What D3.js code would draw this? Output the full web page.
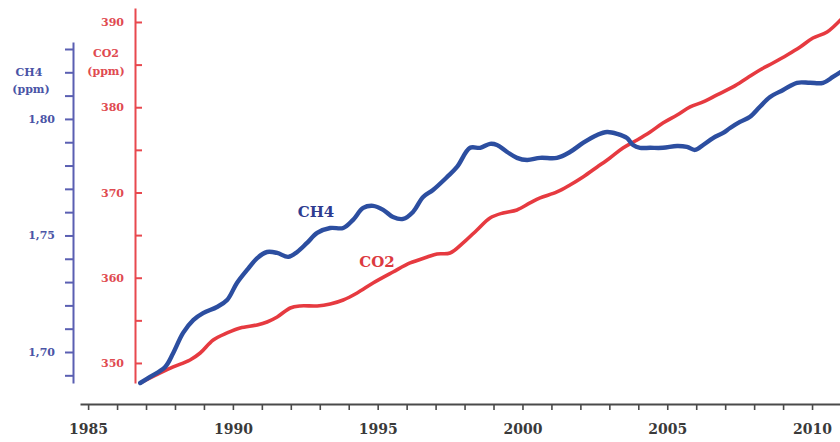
<!DOCTYPE html>
<html>
<head>
<meta charset="utf-8">
<script src="https://cdn.jsdelivr.net/npm/d3@7/dist/d3.min.js"></script>
<style>
  html, body { margin: 0; padding: 0; background: #ffffff; }
  svg { display: block; }
  text { font-family: "DejaVu Serif", "Liberation Serif", serif; font-weight: bold; }
</style>
</head>
<body>
<svg id="chart" width="840" height="442"></svg>
<script>
// Methane concentration (ppm), monthly-smoothed trend
const ch4Years = [1986.80,1987.14,1987.66,1987.94,1988.28,1988.63,1988.97,1989.45,1989.80,1990.14,
  1990.49,1990.84,1991.18,1991.53,1991.91,1992.22,1992.56,1992.91,1993.36,1993.81,
  1994.15,1994.50,1994.84,1995.19,1995.53,1995.88,1996.22,1996.57,1996.91,1997.40,
  1997.74,1998.19,1998.54,1998.88,1999.12,1999.47,1999.81,2000.16,2000.61,2001.19,
  2001.64,2002.09,2002.58,2002.92,2003.27,2003.61,2003.82,2004.06,2004.41,2004.85,
  2005.34,2005.68,2005.96,2006.24,2006.58,2006.93,2007.17,2007.51,2007.86,2008.20,
  2008.55,2009.00,2009.48,2009.93,2010.38,2010.72,2011.00];
const ch4Values = [1.6867,1.6893,1.6936,1.6996,1.7082,1.7137,1.7167,1.7193,1.7223,1.7296,
  1.7352,1.7403,1.7429,1.7425,1.7408,1.7429,1.7468,1.7511,1.7532,1.7532,
  1.7567,1.7618,1.7627,1.7610,1.7579,1.7571,1.7601,1.7665,1.7695,1.7751,
  1.7794,1.7876,1.7876,1.7893,1.7888,1.7858,1.7833,1.7824,1.7833,1.7833,
  1.7858,1.7897,1.7931,1.7944,1.7936,1.7918,1.7888,1.7876,1.7876,1.7876,
  1.7884,1.7880,1.7867,1.7888,1.7918,1.7940,1.7961,1.7987,1.8009,1.8052,
  1.8094,1.8124,1.8155,1.8155,1.8155,1.8180,1.8202];

// Carbon dioxide concentration (ppm)
const co2Years = [1986.80,1987.49,1987.94,1988.52,1988.87,1989.32,1989.80,1990.25,1990.84,1991.18,
  1991.53,1991.98,1992.32,1992.91,1993.36,1993.81,1994.29,1994.84,1995.53,1996.12,
  1996.71,1997.05,1997.50,1997.95,1998.43,1998.88,1999.33,1999.81,2000.26,2000.61,
  2001.19,2001.64,2002.09,2002.58,2003.02,2003.47,2003.96,2004.41,2004.85,2005.34,
  2005.79,2006.24,2006.72,2007.27,2007.76,2008.20,2008.65,2009.14,2009.59,2010.03,
  2010.52,2011.00];
const co2Values = [347.65,348.83,349.53,350.35,351.17,352.70,353.52,354.11,354.46,354.81,
  355.40,356.45,356.69,356.69,356.92,357.39,358.21,359.38,360.67,361.73,
  362.43,362.79,362.90,364.08,365.60,367.01,367.60,367.95,368.77,369.36,
  370.06,370.88,371.82,372.99,374.05,375.22,376.16,377.10,378.15,379.09,
  380.03,380.62,381.44,382.38,383.43,384.37,385.19,386.13,387.07,388.12,
  388.83,390.30];

// Axis ticks
const yearTicks = d3.range(1985, 2012, 1);
const yearLabels = [1985, 1990, 1995, 2000, 2005, 2010];
const ch4Ticks = d3.range(1.69, 1.8301, 0.01).map(v => +v.toFixed(2));
const ch4Labels = [1.70, 1.75, 1.80];
const co2Ticks = d3.range(350, 391, 5);
const co2Labels = [350, 360, 370, 380, 390];

const svg = d3.select("#chart");

const BLUE_LINE = "#2c4ea0";
const BLUE_AXIS = "#5a5fb2";
const BLUE_TEXT = "#4a54a6";
const RED_LINE = "#e63a40";
const RED_AXIS = "#e8484e";
const RED_TEXT = "#e04a50";
const GREY = "#4a4a4a";

const x = d3.scaleLinear().domain([1984.72, 2011.0]).range([80, 841]);
const yCH4 = d3.scaleLinear().domain([1.6867, 1.8330]).range([383, 42]);
const yCO2 = d3.scaleLinear().domain([347.65, 391.64]).range([383, 8]);

// Time axis
const xAxis = d3.axisBottom(x)
  .tickValues(yearTicks)
  .tickSizeInner(6)
  .tickSizeOuter(0)
  .tickPadding(14)
  .tickFormat(d => yearLabels.includes(d) ? d3.format("d")(d) : "");
const gx = svg.append("g").attr("transform", "translate(0,404)").call(xAxis);
gx.select(".domain").attr("stroke", GREY).attr("stroke-width", 2.2);
gx.selectAll(".tick line").attr("stroke", GREY).attr("stroke-width", 1.6);
gx.selectAll(".tick text").attr("fill", "#3a3a3a").attr("font-size", 14)
  .attr("font-family", "DejaVu Serif").attr("font-weight", "bold");

// CH4 axis
const comma = v => d3.format(".2f")(v).replace(".", ",");
const ch4Axis = d3.axisLeft(yCH4)
  .tickValues(ch4Ticks)
  .tickSizeInner(8)
  .tickSizeOuter(0)
  .tickPadding(10)
  .tickFormat(d => ch4Labels.some(l => Math.abs(l - d) < 1e-6) ? comma(d) : "");
const gc = svg.append("g").attr("transform", "translate(73,0)").call(ch4Axis);
gc.select(".domain").attr("stroke", BLUE_AXIS).attr("stroke-width", 2);
gc.selectAll(".tick line").attr("stroke", BLUE_AXIS).attr("stroke-width", 2);
gc.selectAll(".tick text").attr("fill", BLUE_TEXT).attr("font-size", 11)
  .attr("font-family", "DejaVu Serif").attr("font-weight", "bold");

// CO2 axis: ticks point right, labels sit on the left
const co2Axis = d3.axisLeft(yCO2)
  .tickValues(co2Ticks)
  .tickSizeInner(-7)
  .tickSizeOuter(0)
  .tickPadding(11)
  .tickFormat(d => co2Labels.includes(d) ? d3.format("d")(d) : "");
const gr = svg.append("g").attr("transform", "translate(135,0)").call(co2Axis);
gr.select(".domain").attr("stroke", RED_AXIS).attr("stroke-width", 2);
gr.selectAll(".tick line").attr("stroke", RED_AXIS).attr("stroke-width", 2);
gr.selectAll(".tick text").attr("fill", RED_TEXT).attr("font-size", 11)
  .attr("font-family", "DejaVu Serif").attr("font-weight", "bold");

// Axis titles
const titles = svg.append("g").attr("font-size", 11).attr("text-anchor", "middle");
titles.append("text").attr("x", 29).attr("y", 76).attr("fill", BLUE_TEXT).text("CH4");
titles.append("text").attr("x", 31).attr("y", 93).attr("fill", BLUE_TEXT).text("(ppm)");
titles.append("text").attr("x", 106).attr("y", 57).attr("fill", RED_TEXT).text("CO2");
titles.append("text").attr("x", 106).attr("y", 75).attr("fill", RED_TEXT).text("(ppm)");

// Series lines
const ch4Data = d3.zip(ch4Years, ch4Values);
const co2Data = d3.zip(co2Years, co2Values);

const clip = svg.append("clipPath").attr("id", "plot");
clip.append("rect").attr("x", 136).attr("y", 0).attr("width", 704).attr("height", 400);

const plot = svg.append("g").attr("clip-path", "url(#plot)");

plot.append("path")
  .datum(co2Data)
  .attr("fill", "none")
  .attr("stroke", RED_LINE)
  .attr("stroke-width", 3.6)
  .attr("stroke-linecap", "round")
  .attr("stroke-linejoin", "round")
  .attr("d", d3.line().x(d => x(d[0])).y(d => yCO2(d[1])).curve(d3.curveCatmullRom.alpha(0.5)));

plot.append("path")
  .datum(ch4Data)
  .attr("fill", "none")
  .attr("stroke", BLUE_LINE)
  .attr("stroke-width", 4.4)
  .attr("stroke-linecap", "round")
  .attr("stroke-linejoin", "round")
  .attr("d", d3.line().x(d => x(d[0])).y(d => yCH4(d[1])).curve(d3.curveCatmullRom.alpha(0.5)));

// Series labels
svg.append("text").attr("x", 316).attr("y", 217).attr("text-anchor", "middle")
  .attr("font-size", 15).attr("fill", "#2e3c90").text("CH4");
svg.append("text").attr("x", 377).attr("y", 267).attr("text-anchor", "middle")
  .attr("font-size", 15).attr("fill", "#dc3a40").text("CO2");
</script>
</body>
</html>
